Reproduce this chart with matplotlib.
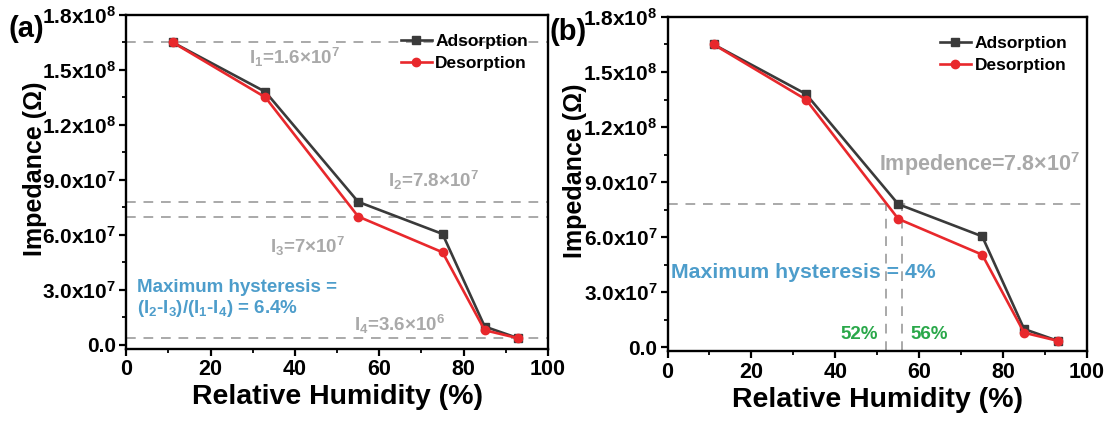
import matplotlib
matplotlib.use('Agg')
import matplotlib.pyplot as plt
from matplotlib.ticker import MultipleLocator

plt.rcParams['font.family'] = ['Liberation Sans', 'DejaVu Sans']
plt.rcParams['font.weight'] = 'bold'
plt.rcParams['mathtext.fontset'] = 'custom'
plt.rcParams['mathtext.rm'] = 'Liberation Sans:bold'
plt.rcParams['mathtext.bf'] = 'Liberation Sans:bold'
plt.rcParams['mathtext.it'] = 'Liberation Sans:bold'
plt.rcParams['mathtext.default'] = 'rm'

# Humidity steps and measured impedance
humidity = [11, 33, 55, 75, 85, 93]
adsorption = [1.65e8, 1.38e8, 7.8e7, 6.05e7, 1.0e7, 3.6e6]
desorption = [1.65e8, 1.35e8, 7.0e7, 5.05e7, 8.0e6, 3.6e6]

# Reference levels for panel (a)
levels_a = [1.65e8, 7.8e7, 7.0e7, 3.6e6]
# Reference level and crossing humidities for panel (b)
level_b = 7.8e7
cross_rh = [52, 56]

xtick_vals = [0, 20, 40, 60, 80, 100]
ytick_vals = [0, 3e7, 6e7, 9e7, 1.2e8, 1.5e8, 1.8e8]
ytick_text = ['0.0', '3.0x10$^{7}$', '6.0x10$^{7}$', '9.0x10$^{7}$',
              '1.2x10$^{8}$', '1.5x10$^{8}$', '1.8x10$^{8}$']

GRAY = '#a9a9a9'
BLUE = '#4d9dcb'
GREEN = '#2aa84a'
DARK = '#3a3a3a'
RED = '#e8282c'

fig = plt.figure(figsize=(11.07, 4.23), dpi=100)
ax1 = fig.add_axes([0.114, 0.176, 0.381, 0.789])
ax2 = fig.add_axes([0.603, 0.170, 0.379, 0.790])


def style_axes(ax, label_x):
    ax.plot(humidity, adsorption, color=DARK, marker='s', ms=6, lw=1.9,
            label='Adsorption', zorder=3)
    ax.plot(humidity, desorption, color=RED, marker='o', ms=6, lw=1.9,
            label='Desorption', zorder=3)
    ax.set_xlim(0, 100)
    ax.set_ylim(-2e6, 1.8e8)
    ax.set_xticks(xtick_vals, [str(v) for v in xtick_vals],
                  fontsize=15.5, fontweight='bold')
    ax.set_yticks(ytick_vals, ytick_text, fontsize=15, fontweight='bold')
    ax.xaxis.set_minor_locator(MultipleLocator(10))
    ax.yaxis.set_minor_locator(MultipleLocator(1.5e7))
    ax.tick_params(which='major', direction='out', length=5, width=1.6,
                   pad=2.5)
    ax.tick_params(which='minor', direction='out', length=3, width=1.3)
    for s in ax.spines.values():
        s.set_linewidth(1.7)
    ax.set_xlabel('Relative Humidity (%)', fontsize=20.5, fontweight='bold',
                  labelpad=3)
    ax.set_ylabel('Impedance (Ω)', fontsize=18, fontweight='bold')
    ax.yaxis.set_label_coords(label_x, 0.54)
    ax.legend(loc='upper right', frameon=False,
              handlelength=1.8, handletextpad=0.2, labelspacing=0.4,
              bbox_to_anchor=(0.99, 0.99), prop={'weight': 'bold', 'size': 12.5})


style_axes(ax1, -0.188)
style_axes(ax2, -0.192)

# Panel (a): hysteresis reference lines
for lv in levels_a:
    ax1.axhline(lv, color=GRAY, ls=(0, (5, 4)), lw=1.4, zorder=1)
ax1.text(29, 1.53e8, 'I$_{1}$=1.6×10$^{7}$', color=GRAY, fontsize=13.5)
ax1.text(62, 8.6e7, 'I$_{2}$=7.8×10$^{7}$', color=GRAY, fontsize=13.5)
ax1.text(34, 5.0e7, 'I$_{3}$=7×10$^{7}$', color=GRAY, fontsize=13.5)
ax1.text(54, 7.5e6, 'I$_{4}$=3.6×10$^{6}$', color=GRAY, fontsize=13.5)
ax1.text(2.5, 1.75e7, 'Maximum hysteresis =\n(I$_{2}$-I$_{3}$)/(I$_{1}$-I$_{4}$) = 6.4%',
         color=BLUE, fontsize=13.5, fontweight='bold', linespacing=1.15)

# Panel (b): single reference level and humidity crossings
ax2.axhline(level_b, color=GRAY, ls=(0, (5, 4)), lw=1.4, zorder=1)
for rh in cross_rh:
    ax2.plot([rh, rh], [-2e6, level_b], color=GRAY, ls=(0, (5, 4)), lw=1.4,
             zorder=1)
ax2.text(50.5, 9.6e7, 'Impedence=7.8×10$^{7}$', color=GRAY, fontsize=15.5)
ax2.text(0.8, 3.8e7, 'Maximum hysteresis = 4%', color=BLUE, fontsize=15.3,
         fontweight='bold')
ax2.text(cross_rh[0] - 1.8, 4.5e6, '52%', color=GREEN, fontsize=13.5,
         fontweight='bold', ha='right')
ax2.text(cross_rh[1] + 2, 4.5e6, '56%', color=GREEN, fontsize=13.5,
         fontweight='bold', ha='left')

fig.text(0.008, 0.912, '(a)', fontsize=21, fontweight='bold')
fig.text(0.4965, 0.905, '(b)', fontsize=21, fontweight='bold')

plt.savefig('out.png', dpi=100)
